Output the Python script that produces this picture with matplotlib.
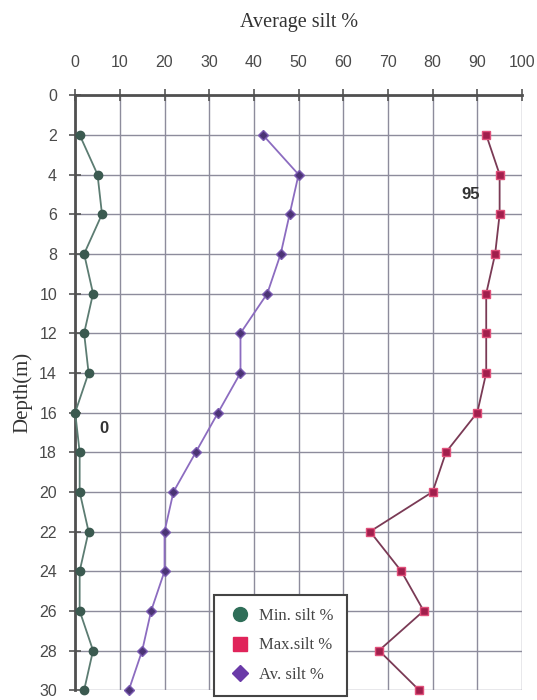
import matplotlib
matplotlib.use("Agg")
import matplotlib.pyplot as plt
from matplotlib.lines import Line2D

depth = [2, 4, 6, 8, 10, 12, 14, 16, 18, 20, 22, 24, 26, 28, 30]
min_silt = [1, 5, 6, 2, 4, 2, 3, 0, 1, 1, 3, 1, 1, 4, 2]
max_silt = [92, 95, 95, 94, 92, 92, 92, 90, 83, 80, 66, 73, 78, 68, 77]
av_silt = [42, 50, 48, 46, 43, 37, 37, 32, 27, 22, 20, 20, 17, 15, 12]
x_ticks = [0, 10, 20, 30, 40, 50, 60, 70, 80, 90, 100]
y_ticks = list(range(0, 31, 2))
legend_labels = ["Min. silt %", "Max.silt %", "Av. silt %"]

fig = plt.figure(figsize=(5.37, 7.0), dpi=100)
ax = fig.add_axes([0.140, 0.014, 0.832, 0.850])

ax.set_xlim(0, 100)
ax.set_ylim(30, 0)
ax.set_xticks(x_ticks)
ax.set_yticks(y_ticks)
ax.xaxis.tick_top()
ax.xaxis.set_label_position("top")
ax.tick_params(axis="both", direction="inout", length=8, width=1.2, color="#555555",
               labelsize=11.5, labelcolor="#4a4a4a")
ax.tick_params(axis="x", pad=14)
ax.tick_params(axis="y", pad=9)
for lab in ax.get_xticklabels() + ax.get_yticklabels():
    lab.set_family(["Liberation Sans Narrow", "Liberation Sans"])

ax.grid(True, color="#8d8c9c", linewidth=1.0)
ax.set_axisbelow(True)
for s in ["right", "bottom"]:
    ax.spines[s].set_visible(False)
for s in ["left", "top"]:
    ax.spines[s].set_color("#505050")
    ax.spines[s].set_linewidth(2.0)

ax.set_xlabel("Average silt %", family="Liberation Serif", fontsize=14.5, color="#333333", labelpad=20)
ax.set_ylabel("Depth(m)", family="Liberation Serif", fontsize=15, color="#333333", labelpad=5)

ax.plot(min_silt, depth, color="#5c7c72", linewidth=1.3, marker="o", markersize=6,
        markerfacecolor="#3b5a50", markeredgecolor="#3b5a50", clip_on=False, zorder=3)
ax.plot(max_silt, depth, color="#7a3a55", linewidth=1.3, marker="s", markersize=6,
        markerfacecolor="#a11f4c", markeredgecolor="#e0507a", clip_on=False, zorder=3)
ax.plot(av_silt, depth, color="#8c6cc0", linewidth=1.3, marker="D", markersize=5,
        markerfacecolor="#4b3475", markeredgecolor="#7a5ab0", clip_on=False, zorder=3)

ax.text(6.5, 16.8, "0", family="Liberation Sans", fontweight="bold", fontsize=12,
        color="#333333", ha="center", va="center")
ax.text(88.5, 5.0, "95", family="Liberation Sans", fontweight="bold", fontsize=12,
        color="#333333", ha="center", va="center")

handles = [
    Line2D([], [], linestyle="none", marker="o", markersize=10, markerfacecolor="#2f6e58", markeredgecolor="#2f6e58"),
    Line2D([], [], linestyle="none", marker="s", markersize=10, markerfacecolor="#e0245a", markeredgecolor="#e0245a"),
    Line2D([], [], linestyle="none", marker="D", markersize=8, markerfacecolor="#6a3aa8", markeredgecolor="#6a3aa8"),
]
leg = ax.legend(handles, legend_labels, loc="lower left", bbox_to_anchor=(0.31, -0.01),
                prop={"family": "Liberation Serif", "size": 12}, frameon=True, fancybox=False,
                edgecolor="#444444", framealpha=1.0, borderpad=0.8, handletextpad=0.3,
                labelspacing=0.8, borderaxespad=0, handlelength=1.6)
leg.get_frame().set_linewidth(1.5)
for t in leg.get_texts():
    t.set_color("#444444")

fig.savefig("out.png", dpi=100)
